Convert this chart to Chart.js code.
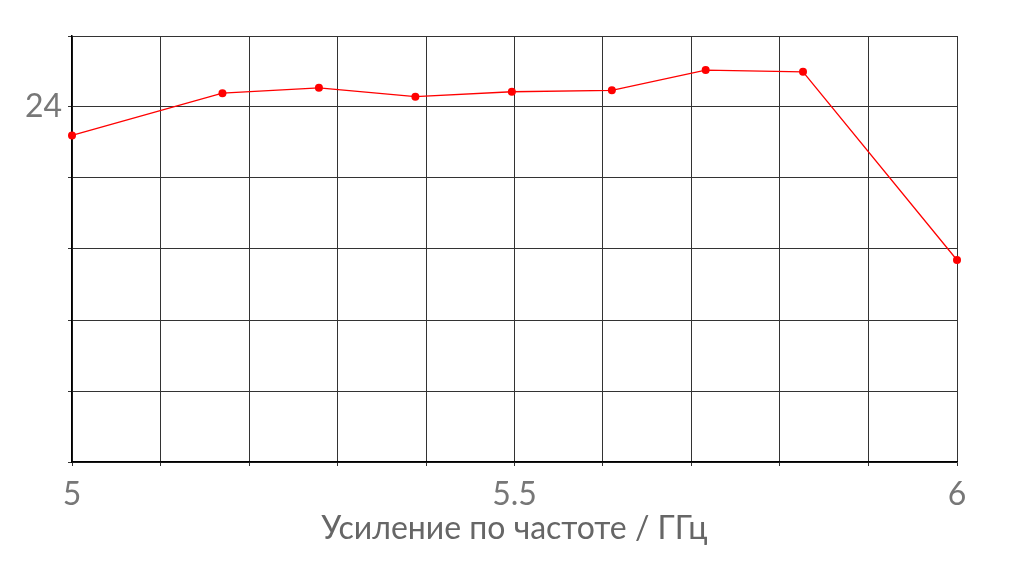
<!DOCTYPE html>
<html>
<head>
<meta charset="utf-8">
<script src="https://cdn.jsdelivr.net/npm/chart.js@4/dist/chart.umd.min.js"></script>
<style>
  html, body { margin: 0; padding: 0; background: #fff; }
  #wrap { width: 1022px; height: 572px; position: relative; }
</style>
</head>
<body>
<div id="wrap"><canvas id="c" width="1022" height="572"></canvas></div>
<script>
const frequencies = [5.0, 5.17, 5.279, 5.388, 5.497, 5.61, 5.716, 5.826, 6.0];
const gainValues = [23.92, 24.039, 24.054, 24.029, 24.043, 24.047, 24.104, 24.099, 23.569];
const xTickLabels = [5, 5.5, 6];
const yTickLabels = [24];
const xTitle = 'Усиление по частоте / ГГц';

const points = frequencies.map((f, i) => ({ x: f, y: gainValues[i] }));
const near = (v, arr) => arr.some(t => Math.abs(v - t) < 1e-6);

new Chart(document.getElementById('c'), {
  type: 'line',
  data: {
    datasets: [{
      data: points,
      borderColor: '#ff0000',
      backgroundColor: '#ff0000',
      borderWidth: 1.3,
      pointRadius: 4,
      pointHoverRadius: 4,
      pointBorderWidth: 0,
      tension: 0,
      clip: false
    }]
  },
  options: {
    responsive: false,
    animation: false,
    layout: { padding: { top: 36, right: 65, left: 0, bottom: 24 } },
    plugins: { legend: { display: false }, tooltip: { enabled: false } },
    scales: {
      x: {
        type: 'linear',
        min: 5, max: 6,
        ticks: {
          stepSize: 0.1,
          autoSkip: false,
          maxRotation: 0,
          color: '#777',
          padding: 9,
          font: { family: 'Lato', size: 32 },
          callback: v => near(v, xTickLabels) ? String(+v.toFixed(2)) : ''
        },
        grid: { color: '#333', lineWidth: 1, tickLength: 4 },
        border: { color: '#000', width: 1.5 },
        title: {
          display: true,
          text: xTitle,
          color: '#666',
          font: { family: 'Lato', size: 32 },
          padding: { top: 0, bottom: 0 }
        },
        afterFit: s => { s.height = 86; }
      },
      y: {
        type: 'linear',
        min: 23.0, max: 24.2,
        ticks: {
          stepSize: 0.2,
          autoSkip: false,
          color: '#777',
          padding: 6,
          font: { family: 'Lato', size: 32 },
          callback: v => near(v, yTickLabels) ? String(Math.round(v)) : ''
        },
        grid: { color: '#333', lineWidth: 1, tickLength: 4 },
        border: { color: '#000', width: 1.5 },
        afterFit: s => { s.width = 72; }
      }
    }
  }
});
</script>
</body>
</html>
